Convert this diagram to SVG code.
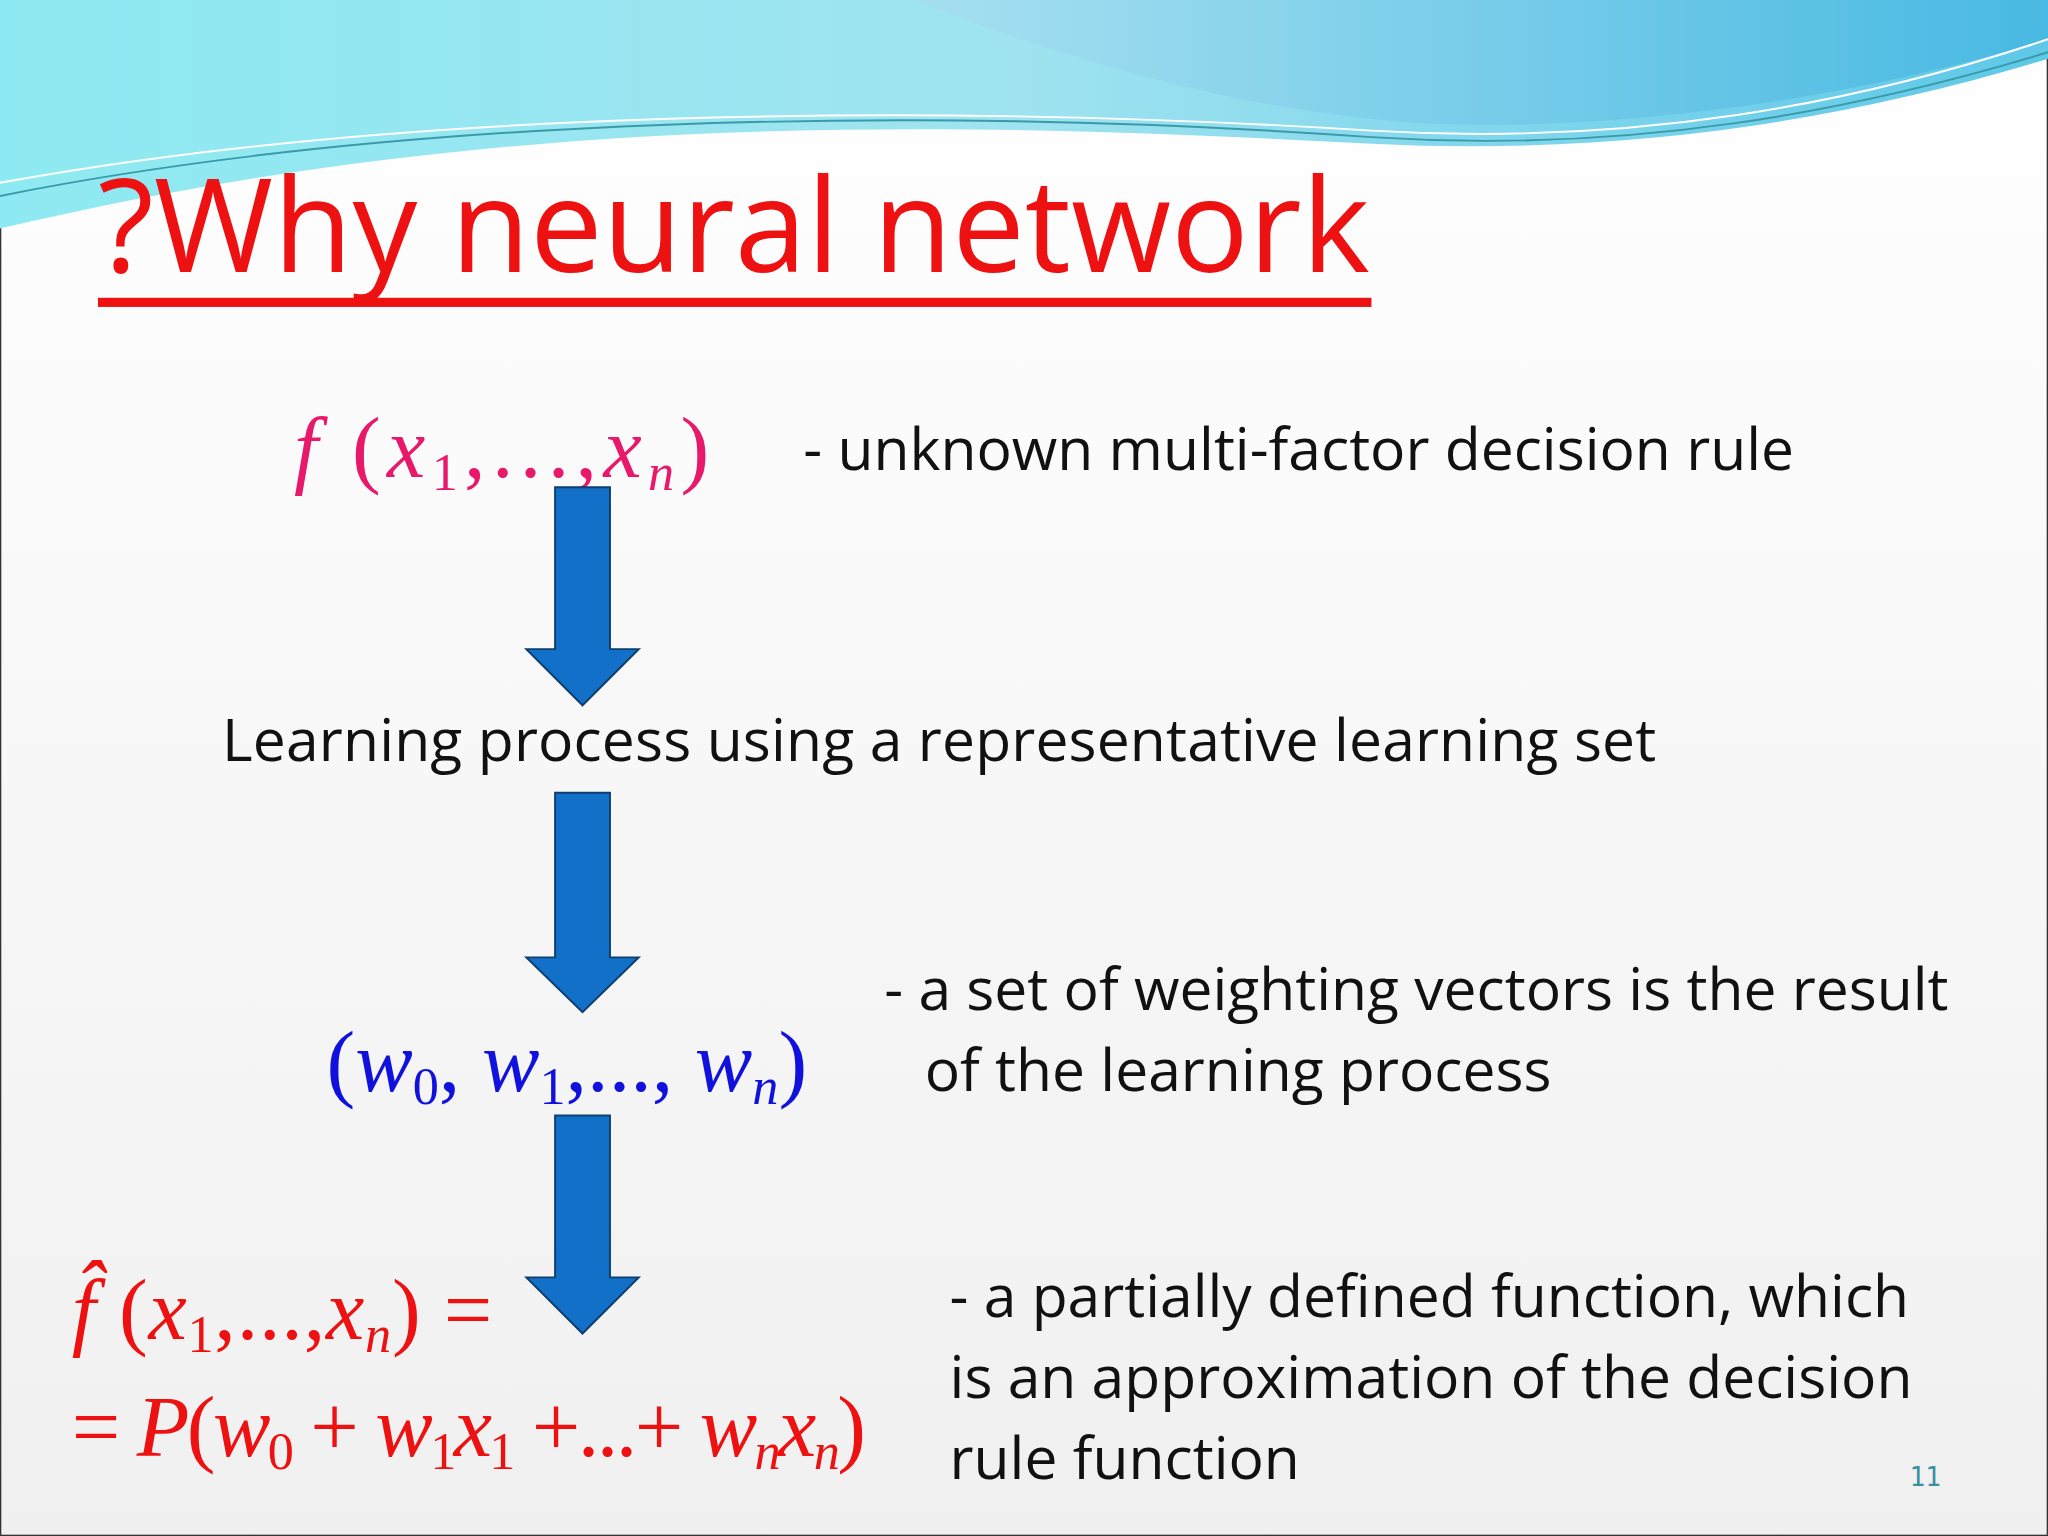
<svg xmlns="http://www.w3.org/2000/svg" width="2048" height="1536" viewBox="0 0 2048 1536">
<defs>
<linearGradient id="g1" x1="0" y1="0" x2="1" y2="0"><stop offset="0" stop-color="#8EEAF2"/><stop offset="0.5" stop-color="#9FE3F0"/><stop offset="1" stop-color="#5EC8E8"/></linearGradient>
<linearGradient id="g2" x1="0" y1="0" x2="1" y2="0"><stop offset="0" stop-color="#A8DDF0"/><stop offset="1" stop-color="#3FB3E0"/></linearGradient>
<linearGradient id="bg" x1="0" y1="0" x2="0" y2="1"><stop offset="0" stop-color="#FFFFFF"/><stop offset="1" stop-color="#F0F0F0"/></linearGradient>
<style>
.t{font-family:"Open Sans","Liberation Sans",sans-serif;font-size:45px;fill:#111}
.m{font-family:"Liberation Serif",serif;font-size:66px}
.i{font-style:italic}
.s{font-size:40px}
.arr{fill:#1370C8;stroke:#0E3E6E;stroke-width:1.5}
</style>
</defs>
<g transform="scale(1.30612)">
<rect width="1568" height="1176" fill="url(#bg)" stroke="#333" stroke-width="2"/>
<g id="header">
<path d="M0,0 H1568 V45 C1420,90 1250,120 1050,110 C760,95 400,80 0,175 Z" fill="url(#g1)"/>
<path d="M700,0 H1568 V30 C1420,75 1250,100 1100,95 C950,88 800,40 700,0 Z" fill="url(#g2)" opacity="0.7"/>
<path d="M0,150 C300,90 700,80 1050,105 C1250,118 1420,85 1568,40" fill="none" stroke="#3A9AA8" stroke-width="1.5"/>
<path d="M0,140 C300,85 700,78 1050,100 C1250,112 1420,80 1568,30" fill="none" stroke="#FFFFFF" stroke-width="1.5"/>
</g>
<g id="title">
<text x="75" y="208" font-family="'Open Sans','Liberation Sans',sans-serif" font-size="99" fill="#EE1111">?Why neural network</text>
<rect x="75" y="228" width="975" height="7" fill="#EE1111"/>
</g>
<g id="n1">
<text x="225" y="365" class="m" fill="#E8196B" textLength="318" lengthAdjust="spacing"><tspan class="i">f</tspan> (<tspan class="i">x</tspan><tspan class="s" dy="10">1</tspan><tspan dy="-10">,...,</tspan><tspan class="i">x</tspan><tspan class="s i" dy="10">n</tspan><tspan dy="-10">)</tspan></text>
<text x="615" y="360" class="t">- unknown multi-factor decision rule</text>
</g>
<g id="n2"><text x="170" y="583" class="t" textLength="1098" lengthAdjust="spacing">Learning process using a representative learning set</text></g>
<g id="n3">
<text x="250" y="835" class="m" fill="#1111DD" textLength="368" lengthAdjust="spacing">(<tspan class="i">w</tspan><tspan class="s" dy="10">0</tspan><tspan dy="-10">, </tspan><tspan class="i">w</tspan><tspan class="s" dy="10">1</tspan><tspan dy="-10">,..., </tspan><tspan class="i">w</tspan><tspan class="s i" dy="10">n</tspan><tspan dy="-10">)</tspan></text>
<text x="677" y="773" class="t">- a set of weighting vectors is the result</text>
<text x="708" y="835" class="t">of the learning process</text>
</g>
<g id="n4">
<text x="55" y="1025" class="m" fill="#EE1111" textLength="322" lengthAdjust="spacing"><tspan class="i">f̂</tspan> (<tspan class="i">x</tspan><tspan class="s" dy="10">1</tspan><tspan dy="-10">,...,</tspan><tspan class="i">x</tspan><tspan class="s i" dy="10">n</tspan><tspan dy="-10">) =</tspan></text>
<text x="55" y="1115" class="m" fill="#EE1111" textLength="608" lengthAdjust="spacing">= <tspan class="i">P</tspan>(<tspan class="i">w</tspan><tspan class="s" dy="10">0</tspan><tspan dy="-10"> + </tspan><tspan class="i">w</tspan><tspan class="s" dy="10">1</tspan><tspan class="i" dy="-10">x</tspan><tspan class="s" dy="10">1</tspan><tspan dy="-10"> +...+ </tspan><tspan class="i">w</tspan><tspan class="s i" dy="10">n</tspan><tspan class="i" dy="-10">x</tspan><tspan class="s i" dy="10">n</tspan><tspan dy="-10">)</tspan></text>
<text x="727" y="1008" class="t">- a partially defined function, which</text>
<text x="727" y="1070" class="t">is an approximation of the decision</text>
<text x="727" y="1132" class="t">rule function</text>
</g>
<g id="connectors">
<path class="arr" d="M425,373 H467 V497 H489 L446,540 L403,497 H425 Z"/>
<path class="arr" d="M425,607 H467 V733 H489 L446,775 L403,733 H425 Z"/>
<path class="arr" d="M425,854 H467 V978 H489 L446,1021 L403,978 H425 Z"/>
</g>
<text x="1462" y="1138" font-family="'DejaVu Sans Mono',monospace" font-size="20" fill="#3A8FA0">11</text>
</g>
</svg>
